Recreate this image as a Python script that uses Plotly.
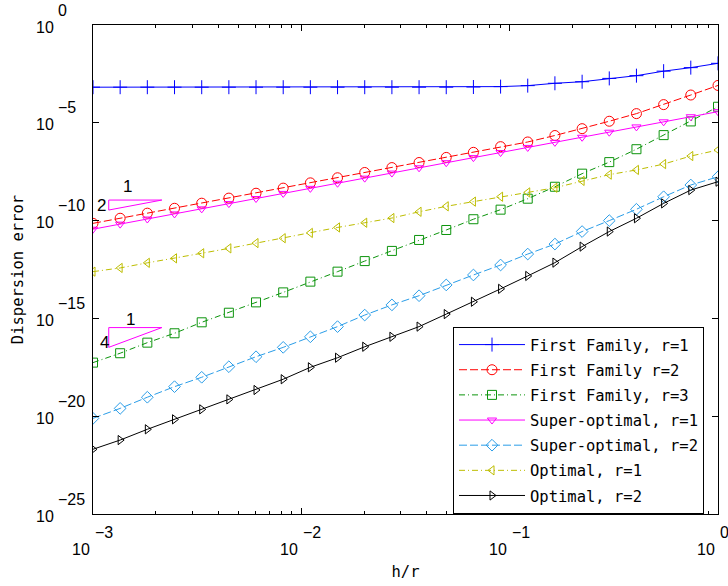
import plotly.graph_objects as go

# h/r sample points (24 log-spaced points between 1e-3 and 1)
h_r = [0.001, 0.001350, 0.001823, 0.002462, 0.003325, 0.004489, 0.006061, 0.008185,
       0.01105, 0.01492, 0.02015, 0.02721, 0.03674, 0.04961, 0.06699, 0.09045,
       0.1221, 0.1649, 0.2227, 0.3007, 0.4060, 0.5483, 0.7403, 1.0]

# log10 of dispersion error
ff_r1_log = [-3.18, -3.18, -3.18, -3.18, -3.18, -3.18, -3.18, -3.18, -3.18, -3.18, -3.18, -3.18,
             -3.18, -3.18, -3.17, -3.15, -3.10, -2.98, -2.90, -2.73, -2.59, -2.36, -2.18, -1.96]
ff_r2_log = [-10.14, -9.88, -9.62, -9.37, -9.11, -8.85, -8.60, -8.34, -8.07, -7.81, -7.54, -7.29,
             -7.03, -6.77, -6.51, -6.22, -5.98, -5.65, -5.30, -4.92, -4.53, -4.07, -3.58, -3.09]
ff_r3_log = [-17.26, -16.78, -16.24, -15.76, -15.20, -14.71, -14.18, -13.67, -13.12, -12.61, -12.07, -11.55,
             -10.99, -10.48, -9.93, -9.44, -8.88, -8.27, -7.60, -7.01, -6.35, -5.63, -4.93, -4.18]
so_r1_log = [-10.44, -10.18, -9.92, -9.66, -9.40, -9.13, -8.87, -8.61, -8.35, -8.09, -7.83, -7.57,
             -7.30, -7.04, -6.78, -6.52, -6.26, -6.00, -5.74, -5.48, -5.21, -4.95, -4.69, -4.43]
so_r2_log = [-20.11, -19.60, -19.03, -18.49, -18.01, -17.47, -16.96, -16.48, -15.94, -15.42, -14.83, -14.31,
             -13.84, -13.29, -12.78, -12.27, -11.71, -11.20, -10.56, -10.00, -9.42, -8.78, -8.18, -7.76]
op_r1_log = [-12.61, -12.42, -12.16, -11.93, -11.67, -11.42, -11.15, -10.90, -10.63, -10.35, -10.11, -9.87,
             -9.55, -9.27, -9.03, -8.78, -8.56, -8.32, -7.97, -7.65, -7.41, -7.11, -6.70, -6.39]
op_r2_log = [-21.69, -21.22, -20.67, -20.16, -19.65, -19.14, -18.66, -18.11, -17.50, -17.01, -16.45, -15.94,
             -15.42, -14.78, -14.15, -13.49, -12.83, -12.15, -11.33, -10.56, -9.88, -9.12, -8.44, -8.01]

series_names = ["First Family, r=1", "First Family r=2", "First Family, r=3",
                "Super-optimal, r=1", "Super-optimal, r=2", "Optimal, r=1", "Optimal, r=2"]

# tick decades and exponent labels
x_tick_decades = [-3, -2, -1, 0]
x_tick_exps = ["\u22123", "\u22122", "\u22121", "0"]
y_tick_decades = [0, -5, -10, -15, -20, -25]
y_tick_exps = ["0", "\u22125", "\u221210", "\u221215", "\u221220", "\u221225"]

# slope triangles (h/r, log10 error)
tri1_x = [0.00119, 0.00214, 0.00119, 0.00119]
tri1_log = [-8.95, -8.95, -9.46, -8.95]
tri2_x = [0.00119, 0.00214, 0.00119, 0.00119]
tri2_log = [-15.47, -15.47, -16.48, -15.47]

styles = [
    dict(color="#0000ff", dash="solid", symbol="cross-thin-open", size=10),
    dict(color="#ff0000", dash="8px,3px", symbol="circle-open", size=10),
    dict(color="#0c940c", dash="6px,3px,1px,3px", symbol="square-open", size=9),
    dict(color="#ff00ff", dash="solid", symbol="triangle-down-open", size=8),
    dict(color="#2a9de8", dash="8px,3px", symbol="diamond-open", size=9),
    dict(color="#bdbd00", dash="6px,3px,1px,3px", symbol="triangle-left-open", size=8),
    dict(color="#000000", dash="solid", symbol="triangle-right-open", size=8),
]

all_logs = [ff_r1_log, ff_r2_log, ff_r3_log, so_r1_log, so_r2_log, op_r1_log, op_r2_log]

fig = go.Figure()
for i, (name, logs, st) in enumerate(zip(series_names, all_logs, styles)):
    fig.add_trace(go.Scatter(
        x=h_r, y=[10 ** v for v in logs], name=name, mode="lines+markers",
        legendgroup=f"g{i}",
        line=dict(color=st["color"], width=1, dash=st["dash"]),
        marker=dict(symbol=st["symbol"], size=st["size"], color=st["color"],
                    line=dict(color=st["color"], width=1)),
    ))

for tx, ty in [(tri1_x, tri1_log), (tri2_x, tri2_log)]:
    fig.add_trace(go.Scatter(x=tx, y=[10 ** v for v in ty], mode="lines",
                             line=dict(color="#ff00ff", width=1), showlegend=False,
                             hoverinfo="skip"))

lab_font = dict(family="Liberation Sans, Arial, sans-serif", size=17, color="black")
annots = [("1", -2.833, -8.28), ("2", -2.958, -9.25), ("1", -2.820, -15.08), ("4", -2.947, -16.21)]
for txt, ax_, ay_ in annots:
    fig.add_annotation(x=ax_, y=ay_, xref="x", yref="y", text=txt, showarrow=False, font=lab_font)

tick_font = dict(family="Liberation Sans, Arial, sans-serif", size=16, color="black")

# tick labels drawn as "10" + raised full-size exponent (as in the reference)
for d, e in zip(y_tick_decades, y_tick_exps):
    fig.add_annotation(x=0, xref="paper", y=d, yref="y", text="10", showarrow=False,
                       xanchor="right", yanchor="middle", xshift=-37, yshift=-2, font=tick_font)
    fig.add_annotation(x=0, xref="paper", y=d, yref="y", text=e, showarrow=False,
                       xanchor="left", yanchor="middle", xshift=-37, yshift=15, font=tick_font)
for d, e in zip(x_tick_decades, x_tick_exps):
    fig.add_annotation(x=d, xref="x", y=0, yref="paper", text="10", showarrow=False,
                       xanchor="right", yanchor="middle", xshift=-1, yshift=-35, font=tick_font)
    fig.add_annotation(x=d, xref="x", y=0, yref="paper", text=e, showarrow=False,
                       xanchor="left", yanchor="middle", xshift=0, yshift=-18, font=tick_font)

mono = "DejaVu Sans Mono, monospace"

fig.update_layout(
    width=728, height=586,
    margin=dict(l=93, r=10, t=25, b=72),
    paper_bgcolor="white", plot_bgcolor="white",
    showlegend=True,
    legend=dict(x=0.576, y=0.3824, xanchor="left", yanchor="top",
                bordercolor="black", borderwidth=1, bgcolor="white",
                font=dict(family=mono, size=15.5, color="black"),
                itemwidth=66, tracegroupgap=2, traceorder="grouped"),
    xaxis=dict(type="log", range=[-3, 0], automargin=False, dtick=1, showticklabels=False,
               showline=True, linecolor="black", linewidth=1, mirror="allticks",
               ticks="inside", ticklen=6, tickcolor="black", showgrid=False, zeroline=False,
               minor=dict(ticks="inside", ticklen=3, tickcolor="black", dtick="D1", showgrid=False),
               title=dict(text="h/r", font=dict(family=mono, size=15.5, color="black"), standoff=52)),
    yaxis=dict(type="log", range=[-25, 0], automargin=False, dtick=5, showticklabels=False,
               showline=True, linecolor="black", linewidth=1, mirror="allticks",
               ticks="inside", ticklen=6, tickcolor="black", showgrid=False, zeroline=False,
               title=dict(text="Dispersion error", font=dict(family=mono, size=15.5, color="black"), standoff=64)),
)

fig.write_html("out.html", config={"displayModeBar": False},
               post_script="document.body.style.margin='0';")
